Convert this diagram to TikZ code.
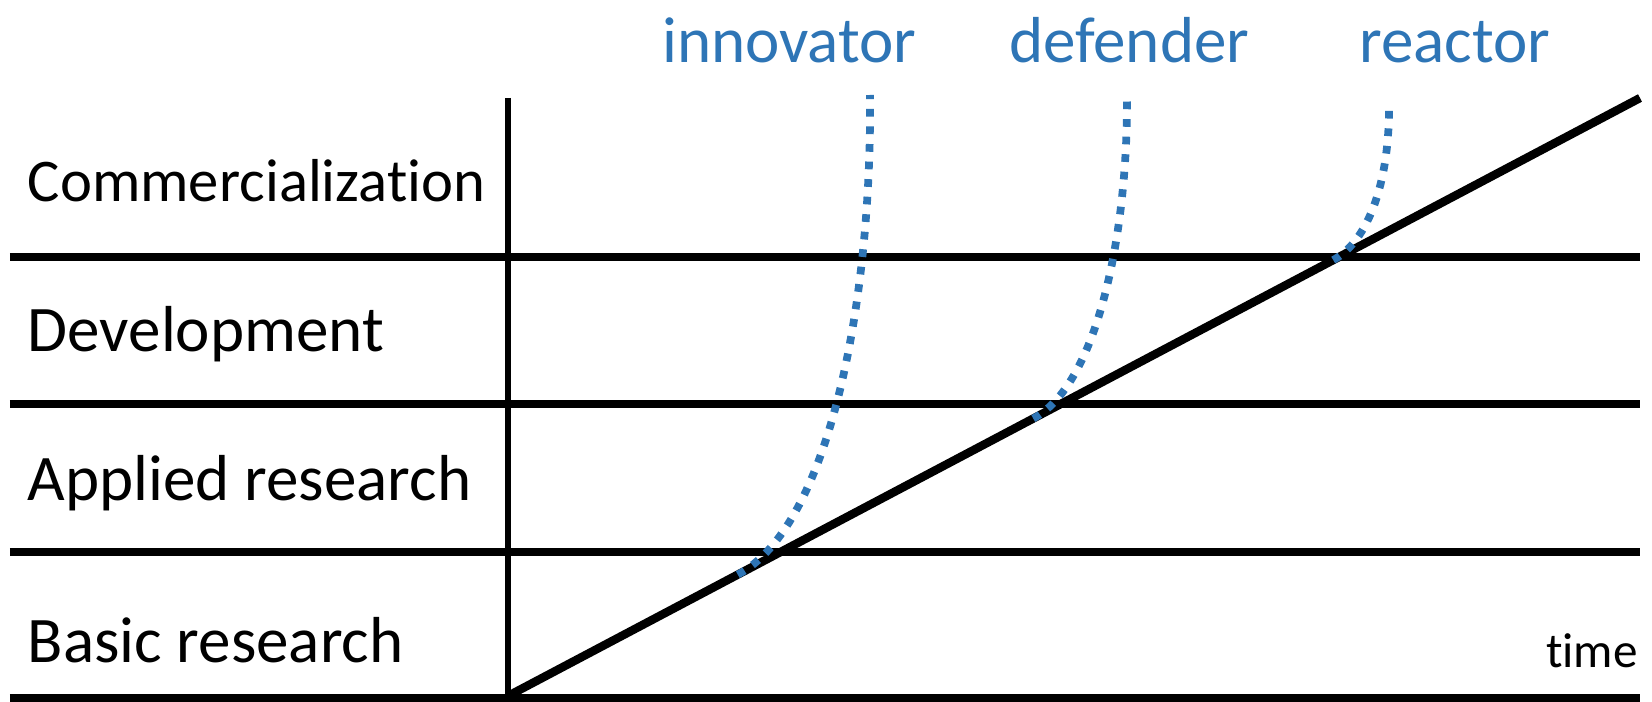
\documentclass[tikz,border=0pt]{standalone}
\usepackage{fontspec}
\setmainfont{Carlito}[Ligatures=NoCommon]
\usetikzlibrary{calc}

\definecolor{lagblue}{RGB}{46,117,182}

\tikzset{
  stage/.style={line width=4.2pt},
  axis/.style={line width=3.4pt},
  trend/.style={line width=4.8pt},
  lag/.style={lagblue,line width=4.4pt,dash pattern=on 4.4pt off 5.6pt},
  phase/.style={anchor=base west,inner sep=0pt,font=\fontsize{37}{40}\selectfont},
  firm/.style={anchor=base west,inner sep=0pt,text=lagblue,font=\fontsize{37}{40}\selectfont},
}

\begin{document}
\begin{tikzpicture}
\useasboundingbox (0,0) rectangle (33.04,14.02);

% stage boundaries
\foreach \y/\n in {0.06/b0,2.98/b1,5.94/b2,8.88/b3}{
  \coordinate (\n w) at (0.2,\y);
  \coordinate (\n e) at (32.8,\y);
  \draw[stage] (\n w) -- (\n e);
}

% time axis and technology trend
\coordinate (o) at (10.16,0.1);
\coordinate (top) at (10.16,12.06);
\coordinate (far) at (32.8,12.06);
\draw[axis] (top) -- (10.16,0.06);
\draw[trend] (o) -- (far);

% stage names
\node (comm) [phase,font=\fontsize{34.5}{38}\selectfont] at (0.55,9.98) {Commercialization};
\node (devel) [phase] at (0.55,6.98) {Development};
\node (applied) [phase] at (0.55,4.02) {Applied research};
\node (basic) [phase] at (0.55,0.78) {Basic research};
\node (time) [anchor=base east,inner sep=0pt,font=\fontsize{28}{32}\selectfont] at (32.76,0.68) {time};

% firm types
\node (innovator) [firm] at (13.24,12.76) {innovator};
\node (defender) [firm] at (20.18,12.76) {defender};
\node (reactor) [firm] at (27.18,12.76) {reactor};

\coordinate (inno0) at ($(o)!0.203!(far)$);
\coordinate (inno1) at (17.4,12.12);
\coordinate (def0) at ($(o)!0.464!(far)$);
\coordinate (def1) at (22.54,12.12);
\coordinate (reac0) at ($(o)!0.729!(far)$);
\coordinate (reac1) at (27.78,11.98);

\draw[lag] (inno0) .. controls +(1.84,0.98) and +(0.04,-4.1) .. (inno1);
\draw[lag] (def0) .. controls +(1.28,0.68) and +(0.02,-2.78) .. (def1);
\draw[lag] (reac0) .. controls +(0.7,0.38) and +(0.02,-1.6) .. (reac1);
\end{tikzpicture}
\end{document}
